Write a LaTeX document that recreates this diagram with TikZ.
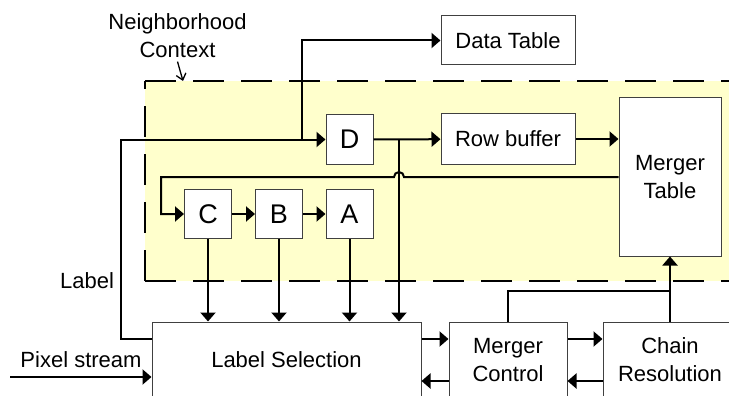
\documentclass[tikz,border=0pt]{standalone}
\usepackage{fontspec}
\setmainfont{Liberation Sans}
\usetikzlibrary{arrows.meta}
\definecolor{ctxyellow}{HTML}{FFFFCC}
\begin{document}
\begin{tikzpicture}[x=1pt,y=-1pt,
	font=\fontsize{22}{28}\selectfont,
	box/.style={draw=black!75, line width=1pt, fill=white, inner sep=0pt, align=center},
	letter/.style={box, minimum width=47pt, minimum height=49pt, font=\fontsize{27}{30}\selectfont},
	flow/.style={line width=2pt, -{Triangle[length=9pt,width=15pt]}},
	wire/.style={line width=2pt},
	region/.style={line width=2.5pt, dash pattern=on 31pt off 17pt}]
	\useasboundingbox (0,0) rectangle (729,396);
	\clip (0,0) rectangle (729,396);
	\fill[ctxyellow] (145,81) rectangle (740,281);
	\draw[region] (145,81) -- (740,81);
	\draw[region] (145,281) -- (740,281);
	\draw[region] (145,281) -- (145,81);
	\node[align=center] (ctx) at (177.5,36) {Neighborhood\\Context};
	\node (lbltxt) at (87,281) {Label};
	\node (pixtxt) at (81,360) {Pixel stream};
	\node[box, minimum width=134pt, minimum height=49pt] (dtab) at (508,40.5) {Data Table};
	\node[letter] (D) at (349.5,139.5) {D};
	\node[box, minimum width=134pt, minimum height=50pt] (rbuf) at (508,139) {Row buffer};
	\node[box, minimum width=102pt, minimum height=158pt] (mtab) at (670,177) {Merger\\Table};
	\node[letter] (C) at (208,214) {C};
	\node[letter] (B) at (279,214) {B};
	\node[letter] (A) at (349.5,214) {A};
	\node[box, minimum width=269pt, minimum height=76pt] (lsel) at (286.5,360) {Label Selection};
	\node[box, minimum width=118pt, minimum height=76pt] (mctl) at (508,360) {Merger\\Control};
	\node[box, minimum width=134pt, minimum height=76pt] (cres) at (670,360) {Chain\\Resolution};
	\coordinate (ctxtip) at (183,81);
	\coordinate (lbl) at (121,339);
	\coordinate (tap1) at (302,139.5);
	\coordinate (tap2) at (399,139.5);
	\coordinate (fb) at (161,177);
	\coordinate (join) at (670,291);
	\coordinate (pix) at (10,377);
	\coordinate (back) at (0,381);
	\draw[line width=1.3pt, -{Straight Barb[length=6pt,width=10pt]}] (ctx.south) -- (ctxtip);
	\draw[flow] (lsel.west |- lbl) -- (lbl) |- (D);
	\draw[flow] (tap1) |- (dtab);
	\draw[flow] (D) -- (rbuf);
	\draw[flow] (rbuf) -- (mtab.west |- rbuf);
	\draw[flow] (tap2) -- (tap2 |- lsel.north);
	\draw[flow] (mtab.west |- fb) -- ([xshift=5pt]tap2 |- fb) arc[start angle=0, end angle=180, radius=5pt] -- (fb) |- (C);
	\draw[flow] (C) -- (B);
	\draw[flow] (B) -- (A);
	\foreach \n in {C,B,A}
		\draw[flow] (\n) -- (\n |- lsel.north);
	\draw[flow] (lsel.east |- lbl) -- (mctl.west |- lbl);
	\draw[flow] (mctl.east |- lbl) -- (cres.west |- lbl);
	\draw[flow] (cres.west |- back) -- (mctl.east |- back);
	\draw[flow] (mctl.west |- back) -- (lsel.east |- back);
	\draw[wire] (mctl.north) |- (join);
	\draw[flow] (cres.north) -- (mtab.south);
	\draw[flow] (pix) -- (lsel.west |- pix);
\end{tikzpicture}
\end{document}
